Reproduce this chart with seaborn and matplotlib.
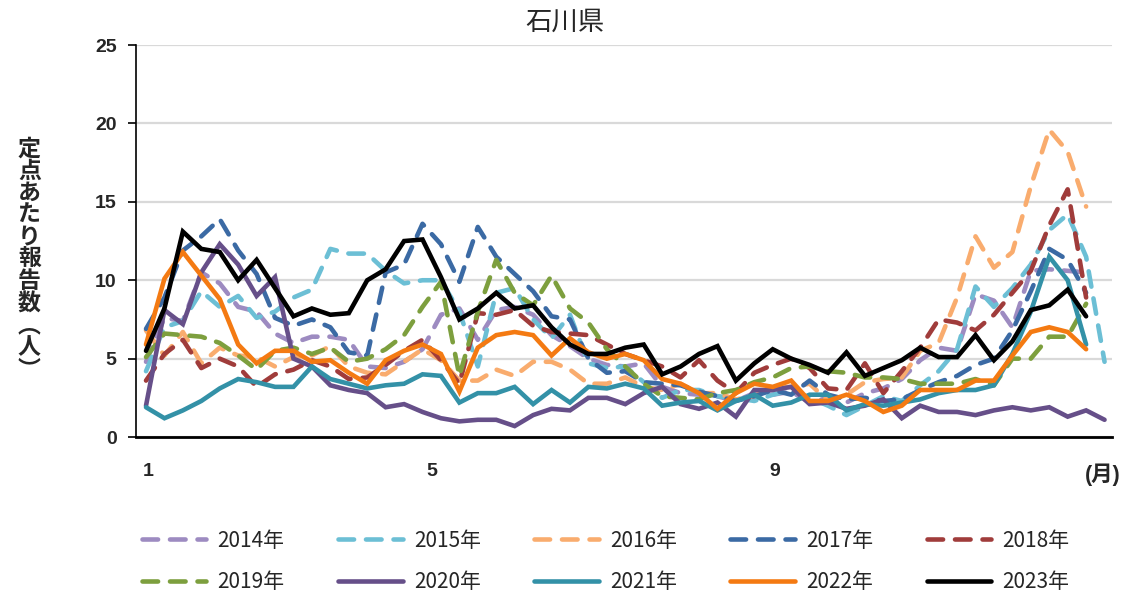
import numpy as np
import pandas as pd
import matplotlib
matplotlib.use("Agg")
import matplotlib.pyplot as plt
import seaborn as sns

# ---------------- data ----------------
years = ["2014年", "2015年", "2016年", "2017年", "2018年",
         "2019年", "2020年", "2021年", "2022年", "2023年"]

v2014 = [4.8, 7.6, 7.4, 10.5, 9.8, 8.3, 8.0, 6.6, 6.0, 6.4, 6.4, 6.2, 4.5, 4.4, 4.8, 5.6, 7.8, 8.2, 6.2, 8.1,
         8.3, 7.8, 6.5, 5.8, 5.0, 4.6, 4.5, 4.7, 3.2, 2.8, 2.7, 2.6, 2.3, 2.8, 2.7, 2.9, 2.2, 2.5, 2.2, 2.8,
         3.1, 3.7, 4.9, 5.7, 5.5, 9.1, 8.7, 7.0, 10.6, 10.7, 10.6, 10.5]
v2015 = [4.2, 7.0, 7.4, 9.3, 8.3, 9.0, 7.6, 8.0, 8.9, 9.4, 12.0, 11.7, 11.7, 10.6, 9.8, 10.0, 10.0, 8.0, 4.5, 9.2,
         9.5, 7.5, 6.3, 7.8, 4.7, 4.4, 4.5, 3.5, 2.5, 3.0, 3.0, 2.6, 2.5, 2.3, 2.7, 3.0, 2.5, 2.0, 1.4, 2.0,
         2.6, 2.3, 3.3, 4.2, 5.6, 9.6, 8.3, 9.5, 11.0, 13.2, 14.2, 11.5, 4.8]
v2016 = [6.8, 5.2, 6.7, 4.7, 5.7, 5.2, 5.1, 4.5, 5.1, 5.2, 5.8, 4.5, 4.1, 4.0, 4.8, 5.6, 4.9, 3.6, 3.6, 4.3,
         3.9, 4.8, 4.8, 4.3, 3.4, 3.4, 3.8, 3.2, 3.0, 3.4, 2.8, 2.8, 2.4, 2.6, 3.2, 3.2, 3.4, 2.3, 2.7, 3.5,
         3.7, 3.8, 5.5, 6.0, 8.9, 12.8, 10.8, 11.8, 16.0, 19.6, 18.2, 14.7]
v2017 = [6.9, 8.9, 11.9, 12.8, 13.9, 11.9, 10.4, 7.6, 7.1, 7.5, 7.0, 5.4, 5.2, 10.5, 11.0, 13.6, 12.3, 9.9, 13.4, 11.5,
         10.4, 9.3, 7.7, 7.5, 5.0, 4.1, 4.2, 3.5, 3.4, 3.3, 2.9, 2.6, 2.3, 2.6, 3.0, 2.7, 3.6, 2.7, 2.4, 2.5,
         2.3, 2.4, 3.0, 3.5, 3.9, 4.6, 5.0, 6.8, 9.3, 12.0, 11.3, 9.2]
v2018 = [3.6, 5.3, 6.2, 4.4, 5.0, 4.5, 3.2, 4.0, 4.3, 4.9, 4.5, 3.7, 3.8, 4.6, 5.5, 6.2, 4.9, 3.4, 7.9, 7.8,
         8.1, 7.1, 6.7, 6.6, 6.5, 5.9, 5.3, 4.9, 4.5, 3.8, 4.9, 3.6, 2.8, 4.1, 4.6, 5.0, 4.4, 3.1, 3.0, 4.7,
         2.8, 4.2, 5.7, 7.5, 7.3, 6.8, 7.8, 9.2, 10.6, 13.5, 15.8, 8.9]
v2019 = [5.1, 6.6, 6.5, 6.4, 6.0, 5.2, 4.3, 5.5, 5.7, 5.3, 5.7, 4.8, 5.0, 5.6, 6.5, 8.3, 9.9, 3.9, 8.0, 11.3,
         9.2, 8.4, 10.3, 8.2, 7.3, 5.6, 4.5, 3.4, 2.6, 2.5, 2.4, 2.8, 3.0, 3.5, 3.8, 4.4, 4.5, 4.2, 4.1, 3.8,
         3.8, 3.7, 3.4, 3.4, 3.4, 3.7, 3.3, 5.0, 5.0, 6.4, 6.4, 8.5]
v2020 = [2.0, 8.1, 7.2, 10.5, 12.3, 11.0, 9.0, 10.2, 5.0, 4.5, 3.3, 3.0, 2.8, 1.9, 2.1, 1.6, 1.2, 1.0, 1.1, 1.1,
         0.7, 1.4, 1.8, 1.7, 2.5, 2.5, 2.1, 2.8, 3.2, 2.1, 1.8, 2.2, 1.3, 3.0, 3.0, 3.2, 2.1, 2.2, 1.8, 2.0,
         2.4, 1.2, 2.0, 1.6, 1.6, 1.4, 1.7, 1.9, 1.7, 1.9, 1.3, 1.7, 1.1]
v2021 = [1.9, 1.2, 1.7, 2.3, 3.1, 3.7, 3.5, 3.2, 3.2, 4.5, 3.7, 3.4, 3.1, 3.3, 3.4, 4.0, 3.9, 2.2, 2.8, 2.8,
         3.2, 2.1, 3.0, 2.2, 3.2, 3.1, 3.4, 3.1, 2.0, 2.2, 2.3, 1.7, 2.3, 2.7, 2.0, 2.2, 2.7, 2.7, 1.7, 2.1,
         2.0, 2.2, 2.4, 2.8, 3.0, 3.0, 3.3, 5.3, 8.0, 11.5, 10.0, 5.9]
v2022 = [5.9, 10.1, 11.8, 10.3, 8.8, 5.9, 4.7, 5.5, 5.5, 4.8, 4.9, 4.1, 3.4, 4.9, 5.5, 5.9, 5.3, 2.9, 5.7, 6.5,
         6.7, 6.5, 5.2, 6.3, 5.4, 5.0, 5.3, 4.9, 3.7, 3.4, 2.8, 1.8, 2.8, 3.4, 3.2, 3.6, 2.3, 2.3, 2.7, 2.3,
         1.6, 2.0, 3.0, 3.0, 3.0, 3.6, 3.6, 5.2, 6.7, 7.0, 6.7, 5.6]
v2023 = [5.5, 8.2, 13.1, 12.0, 11.8, 10.0, 11.3, 9.5, 7.7, 8.2, 7.8, 7.9, 10.0, 10.7, 12.5, 12.6, 10.2, 7.5, 8.2, 9.2,
         8.2, 8.4, 7.0, 5.9, 5.3, 5.3, 5.7, 5.9, 4.0, 4.5, 5.3, 5.8, 3.6, 4.7, 5.6, 5.0, 4.6, 4.1, 5.4, 3.9,
         4.4, 4.9, 5.7, 5.1, 5.1, 6.5, 4.9, 6.1, 8.1, 8.4, 9.4, 7.7]

series = [v2014, v2015, v2016, v2017, v2018, v2019, v2020, v2021, v2022, v2023]

month_ticks = [1.1, 16.5, 35.1, 52.9]
month_labels = ["1", "5", "9", "(月)"]
y_ticks = [0, 5, 10, 15, 20, 25]

title = "石川県"
ylabel_chars = ["定", "点", "あ", "た", "り", "報", "告", "数", "︵", "人", "︶"]

# ---------------- style ----------------
colors = ["#9D8BC1", "#6CBFD5", "#F9AC6E", "#3B6AA4", "#A03C3B",
          "#7D9F3E", "#664F89", "#3391A7", "#F47A12", "#000000"]
dashed = [True] * 6 + [False] * 4

sns.set_theme(style="white")
plt.rcParams['font.family'] = ['Noto Sans CJK JP', 'DejaVu Sans']

fig = plt.figure(figsize=(11.3, 5.93), dpi=100)
ax = fig.add_axes([0.1204, 0.263, 0.8636, 0.661])

for name, vals, col, dsh in zip(years, series, colors, dashed):
    df = pd.DataFrame({"week": np.arange(1, len(vals) + 1), "value": vals})
    kw = dict(linestyle=(0, (3.4, 2.6)), dash_capstyle="round") if dsh else dict(linestyle="-")
    sns.lineplot(data=df, x="week", y="value", ax=ax, color=col, lw=3.3,
                 label=name, errorbar=None, solid_joinstyle="miter", **kw)

ax.set_xlim(0.46, 53.4)
ax.set_ylim(0, 25)
ax.set_yticks(y_ticks)
ax.set_yticklabels([str(t) for t in y_ticks], fontfamily="Liberation Sans",
                   fontweight="bold", fontsize=14)
ax.set_xticks(month_ticks)
ax.set_xticklabels(month_labels, fontweight="bold", fontsize=14,
                   fontfamily=["Liberation Sans", "Noto Sans CJK JP"])
ax.get_xticklabels()[-1].set_fontsize(15.5)
ax.tick_params(axis="x", length=0, pad=19)
ax.tick_params(axis="y", length=6, width=1.2, color="black", direction="out", pad=8, left=True)

ax.yaxis.grid(True, color="#D9D9D9", lw=1.6)
ax.xaxis.grid(False)
for s in ["top", "right"]:
    ax.spines[s].set_visible(False)
ax.spines["left"].set_color("black")
ax.spines["left"].set_linewidth(1.2)
ax.spines["bottom"].set_color("black")
ax.spines["bottom"].set_linewidth(2)
ax.set_xlabel("")
ax.set_ylabel("")

fig.text(0.5, 0.962, title, ha="center", va="center", fontsize=19)
fig.text(0.026, 0.562, "\n".join(ylabel_chars), ha="center", va="center",
         fontsize=16.5, fontweight="bold", linespacing=0.95)

handles, labels = ax.get_legend_handles_labels()
order = [0, 5, 1, 6, 2, 7, 3, 8, 4, 9]
ax.legend([handles[i] for i in order], [labels[i] for i in order],
          ncol=5, loc="center", bbox_to_anchor=(0.536, 0.053),
          bbox_transform=fig.transFigure, frameon=False, fontsize=15,
          handlelength=3.1, handletextpad=0.55, columnspacing=2.55, labelspacing=0.95)

fig.savefig("out.png", dpi=100)
